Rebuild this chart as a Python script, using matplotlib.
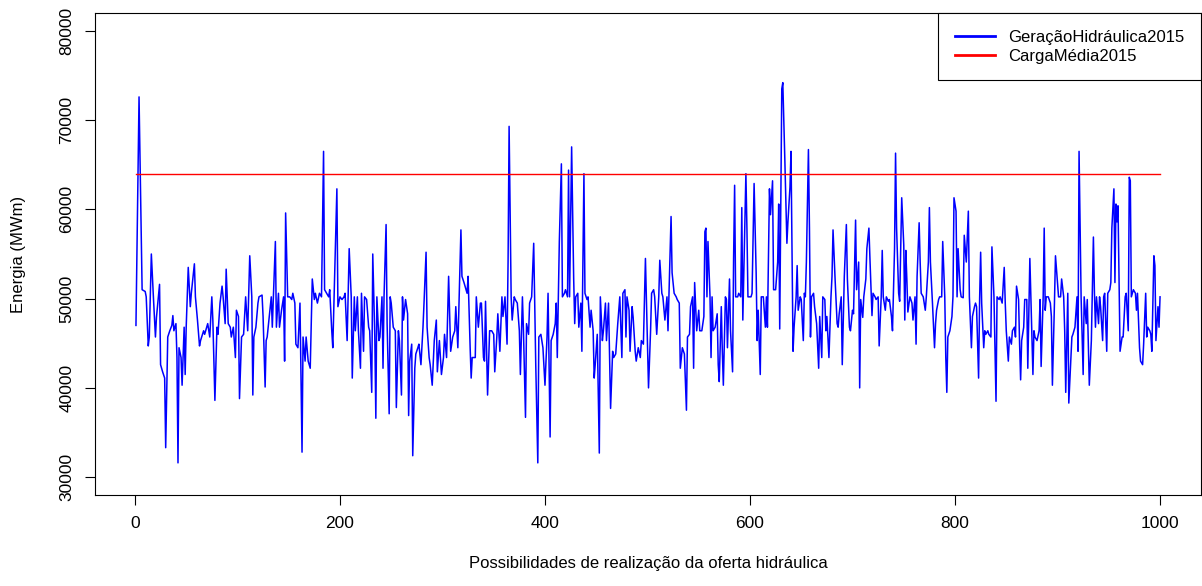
import matplotlib
matplotlib.use("Agg")
import matplotlib.pyplot as plt

plt.rcParams['font.family'] = ['Liberation Sans', 'DejaVu Sans']

# Possibilidade (índice) e geração hidráulica (MWm)
indice = [
    1, 4, 7, 10, 11, 13, 14, 16, 18, 20, 21, 24, 25, 27, 29, 30, 32, 34, 36, 37, 38, 40, 41, 42, 43, 45, 46, 48, 49, 50,
    52, 54, 55, 58, 59, 61, 63, 64, 67, 68, 70, 71, 73, 75, 76, 78, 80, 81, 83, 85, 86, 88, 89, 91, 93,
    94, 96, 98, 99, 101, 102, 104, 106, 108, 110, 112, 114, 115, 116, 118, 120, 121, 124, 125, 127, 128, 129, 131, 133, 134,
    137, 138, 140, 141, 143, 145, 146, 147, 149, 151, 153, 154, 156, 157, 159, 161, 163, 164, 166, 167, 169, 171, 173, 175, 176,
    178, 180, 182, 184, 185, 187, 189, 190, 192, 193,
    197, 198, 200, 202, 204, 205, 207, 209, 211, 212, 214, 215, 217, 218, 220, 221, 223, 224, 226, 228, 229, 231, 232, 234, 235,
    236, 238, 239, 241, 242, 243, 245, 246, 248, 249, 250, 252, 254, 255, 257, 258, 260, 261, 262, 264, 266, 267, 268, 270, 271,
    273, 274, 276, 277, 279, 281, 282, 284, 285, 287, 288, 290, 292, 294, 295, 297,
    299, 301, 302, 304, 306, 308, 310, 312, 313, 315, 318, 319, 321, 324, 325, 327, 328, 329, 332, 333, 335, 337, 338, 340, 341,
    342, 344, 346, 348, 350, 351, 353, 354, 356, 358, 359, 361, 363, 364, 365, 367, 368, 370, 371, 373, 375, 376, 378, 379, 381,
    382, 384, 385, 387, 389, 391, 393, 394, 396, 398, 400,
    402, 403, 405, 406, 408, 410, 411, 412, 414, 416, 417, 419, 420, 422, 423, 424, 426, 428, 429, 430, 432, 433, 435, 436, 438,
    439, 441, 442, 444, 445, 447, 448, 449, 451, 453, 454, 456, 457, 459, 460, 462, 463, 464, 466, 467, 469, 471, 472, 473, 475,
    476, 478, 479, 480, 482, 483, 485, 486, 488, 489, 491, 493, 494, 496, 498, 500, 501,
    503, 504, 506, 507, 509, 511, 512, 514, 515, 517, 519, 520, 523, 524, 526, 528, 529, 531, 532, 534, 536, 538, 539, 541, 542,
    544, 545, 546, 548, 550, 551, 553, 555, 556, 557, 558, 559, 561, 562, 563, 564, 566, 568, 569, 570, 572, 573, 574, 576, 577,
    578, 580, 581, 583, 584, 585, 586, 588, 589, 591, 592, 593, 595, 596, 597, 598, 599, 601, 602, 604,
    606, 607, 608, 610, 611, 613, 615, 616, 617, 619, 620, 622, 623, 625, 627, 628, 629, 631, 632, 634, 636, 637, 639, 640, 642,
    643, 645, 646, 647, 649, 650, 652, 653, 654, 655, 657, 658, 659, 660, 662, 663, 665, 667, 668, 670, 671, 673, 674, 675, 677,
    679, 680, 681, 683, 685, 686, 687, 689, 690, 692, 694, 695, 697, 698, 700, 701, 703, 704, 706, 707,
    708, 710, 711, 713, 714, 716, 717, 719, 720, 722, 723, 725, 726, 728, 729, 730, 732, 733, 735, 736, 738, 739, 741, 742, 743,
    745, 746, 748, 750, 751, 752, 753, 754, 756, 758, 759, 761, 762, 763, 765, 766, 767, 769, 771, 772, 774, 775, 776, 778, 780,
    781, 782, 784, 785, 787, 788, 790, 791, 792, 793, 795, 797, 798, 799, 801, 802, 803, 805, 806, 808, 809,
    811, 813, 814, 816, 817, 819, 820, 821, 823, 824, 825, 826, 828, 829, 830, 832, 833, 835, 836, 838, 840, 841, 843, 844, 846,
    848, 849, 850, 852, 853, 855, 856, 858, 859, 860, 862, 863, 864, 865, 867, 868, 870, 871, 873, 874, 876, 877, 878, 880, 882,
    883, 884, 886, 887, 888, 889, 891, 893, 894, 895, 897, 898, 900, 901, 903, 904, 906, 907, 908, 910, 911,
    914, 915, 917, 919, 920, 921, 923, 925, 926, 927, 928, 929, 931, 933, 935, 936, 937, 938, 940, 941, 942, 944, 945, 946, 948,
    949, 951, 952, 953, 955, 956, 957, 958, 959, 960, 961, 963, 964, 966, 967, 969, 970, 971, 972, 974, 976, 977, 978, 980, 981,
    983, 984, 986, 987, 988, 990, 991, 992, 994, 995, 996, 998, 999, 1000,
]
geracao = [
    47000, 72600, 51000, 50800, 50200, 44700, 45700, 55000, 50200, 45700, 47900, 51600, 42600, 41800, 41100, 33300, 45700, 46400, 47000, 48100, 46400, 47200, 43400, 31600, 44500, 43400, 40300, 46800, 41500, 46800,
    53500, 49100, 50600, 53900, 50200, 47600, 44700, 45300, 46400, 46000, 46800, 47200, 45700, 50200, 47600, 38600, 46800, 46000, 49500, 51400, 50200, 47200, 53300, 47200, 46800,
    45700, 46800, 43400, 48700, 48000, 38800, 45700, 46000, 50200, 46400, 54800, 50200, 39200, 45700, 46800, 49500, 50200, 50400, 48000, 40100, 45300, 45700, 48000, 50200, 46800,
    56400, 46800, 50600, 46800, 48700, 50200, 43000, 59600, 50200, 50200, 49900, 50600, 49500, 44900, 44500, 49500, 32800, 45700, 43000, 45700, 43000, 42200, 52200, 49900, 50600,
    49500, 50600, 50200, 66500, 51000, 50600, 50200, 51000, 46400, 44500,
    62300, 49100, 50200, 49900, 50200, 50600, 45300, 55600, 50200, 41100, 50200, 46400, 50200, 46400, 42200, 50600, 44100, 50200, 49900, 46800, 46400, 39500, 55000, 45700, 36600,
    50200, 45300, 45700, 50200, 42200, 50200, 58300, 47200, 37100, 50200, 49500, 46800, 46400, 37800, 46400, 45300, 39200, 50200, 47600, 49900, 48300, 36900, 43000, 44900, 32400,
    42200, 43800, 44500, 44900, 42600, 46800, 49500, 55200, 46800, 43400, 42600, 40300, 45300, 47600, 41800, 45300,
    41500, 43400, 46000, 43400, 52500, 44100, 45700, 46400, 49100, 44500, 57700, 52500, 51800, 50600, 52500, 44500, 41100, 43400, 43400, 50200, 46800, 49500, 49500, 43400, 43000,
    49700, 39200, 46400, 46400, 46000, 41800, 45700, 48300, 44100, 50200, 48000, 50200, 44900, 54100, 69300, 50200, 47600, 50200, 49900, 49500, 46400, 41500, 50200, 46400, 36700,
    47200, 46000, 49500, 50200, 56200, 42600, 31600, 45700, 46000, 44500, 40300,
    45700, 50600, 34500, 45300, 46000, 47200, 49500, 43400, 56400, 65100, 50200, 50600, 51000, 50200, 64400, 50200, 67000, 52200, 47200, 50200, 50600, 46800, 49500, 44100, 64000,
    50600, 49900, 50200, 46800, 48700, 46400, 41100, 42600, 46000, 32700, 50200, 45300, 46400, 49500, 45300, 49500, 43400, 37700, 44100, 43400, 43800, 47200, 48700, 50200, 43400,
    50600, 51000, 45700, 50200, 48700, 44100, 49100, 47900, 44100, 43000, 44500, 43400, 45300, 44900, 54500, 44900, 40000,
    46400, 50600, 51000, 50200, 46000, 50200, 54300, 50600, 50200, 47600, 50200, 46400, 59200, 52900, 50600, 50200, 49900, 49500, 42200, 44500, 43800, 37500, 45700, 46000, 49100,
    50200, 42200, 51800, 46400, 48700, 46400, 46400, 48000, 57500, 57900, 50200, 56400, 50200, 43400, 50200, 46400, 46800, 48300, 42600, 40700, 49100, 44100, 40300, 50200, 49900,
    44500, 52200, 46400, 41800, 54500, 62700, 50200, 50200, 50600, 50200, 60200, 47600, 58300, 64000, 57900, 50200, 50200, 50200, 50600, 62900,
    52900, 45300, 48700, 41500, 50200, 50200, 46800, 50200, 46800, 62300, 59400, 63200, 51000, 51000, 54100, 60600, 46600, 73500, 74200, 65500, 56200, 58600, 62500, 66500, 44100,
    46800, 50200, 53700, 48700, 50200, 49900, 45300, 50600, 50200, 54100, 66700, 57900, 45700, 50200, 50600, 49100, 47200, 42200, 48000, 43400, 50200, 49900, 46400, 48000, 43400,
    50200, 52500, 57700, 52200, 47200, 46800, 48300, 50200, 42600, 52500, 58300, 52200, 46800, 46400, 48700, 48300, 58800, 51000, 54100, 40000,
    49900, 47900, 50200, 52200, 55600, 57900, 54500, 48100, 50600, 50200, 49900, 50200, 44700, 50200, 55400, 50200, 48700, 50200, 49700, 49900, 48000, 46400, 55600, 66300, 57900,
    50600, 49700, 61300, 56000, 47600, 55400, 52200, 48500, 50200, 49500, 47600, 50200, 44900, 52500, 58500, 54100, 50600, 50200, 48700, 50200, 54100, 60200, 54100, 49500, 44500,
    47200, 48700, 49900, 50200, 50200, 56400, 50200, 43400, 39500, 45700, 46400, 48000, 50200, 61300, 59800, 50200, 55600, 51000, 50200, 50100, 57100,
    54100, 59800, 50200, 44500, 48000, 49100, 49500, 49100, 41100, 49900, 55200, 49500, 44500, 46400, 46000, 46400, 46000, 45700, 55800, 50200, 38500, 50200, 49900, 50200, 49500,
    53500, 49500, 46400, 43000, 45700, 44900, 46400, 46800, 45700, 51400, 49900, 44900, 40900, 45300, 46800, 49900, 49900, 42200, 54500, 50200, 41500, 46400, 45700, 45300, 46400,
    49900, 42400, 50200, 57900, 48700, 50200, 50200, 49500, 48000, 40300, 49500, 54800, 51800, 50200, 50200, 52200, 50200, 46400, 39500, 50600, 38300,
    45700, 46000, 46800, 50200, 44100, 66500, 50200, 41500, 50200, 48700, 47200, 49900, 40300, 45300, 56900, 50600, 46800, 50200, 47200, 50200, 49100, 45300, 50200, 50600, 44100,
    50600, 51000, 51800, 57900, 62300, 51800, 60600, 58600, 60400, 52500, 44100, 45700, 45700, 50200, 50600, 46400, 63600, 63200, 50200, 51000, 50600, 48700, 50600, 44500, 43000,
    42600, 44900, 50600, 45700, 46800, 46400, 46000, 44100, 54800, 53700, 45300, 49100, 46800, 50200,
]
carga_media = 64000
x_carga = [1, 1000]
x_ticks = [0, 200, 400, 600, 800, 1000]
y_ticks = [30000, 40000, 50000, 60000, 70000, 80000]

fig = plt.figure(figsize=(12.02, 5.86), dpi=100)
ax = fig.add_axes([95 / 1202, 91 / 586, 1106 / 1202, 482 / 586])
ax.plot(indice, geracao, color='#0000FF', lw=1.1, label='GeraçãoHidráulica2015')
ax.plot(x_carga, [carga_media, carga_media], color='#FF0000', lw=1.0, label='CargaMédia2015')
ax.set_xlim(-38.96, 1039.96)
ax.set_ylim(28000, 82000)
ax.set_xticks(x_ticks)
ax.set_xticklabels([str(v) for v in x_ticks])
ax.set_yticks(y_ticks)
ax.set_yticklabels([str(v) for v in y_ticks], rotation=90, va='center')
ax.tick_params(axis='both', direction='out', length=7, width=0.8, labelsize=12.5)
ax.tick_params(axis='x', pad=8)
ax.tick_params(axis='y', pad=8)
for s in ax.spines.values():
    s.set_linewidth(0.8)
ax.set_xlabel('Possibilidades de realização da oferta hidráulica', fontsize=12, labelpad=18)
ax.set_ylabel('Energia (MWm)', fontsize=12, labelpad=24)
leg = ax.legend(loc='upper right', fancybox=False, edgecolor='black', framealpha=1,
                borderaxespad=0, fontsize=12, handlelength=2.4, borderpad=1.0,
                labelspacing=0.25, handletextpad=0.8)
leg.get_frame().set_linewidth(0.8)
for line in leg.get_lines():
    line.set_linewidth(2.0)
fig.savefig('out.png', dpi=100)
